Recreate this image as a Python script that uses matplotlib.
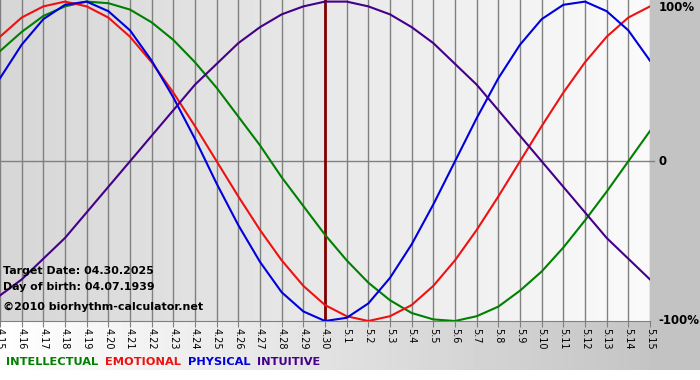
import matplotlib
matplotlib.use("Agg")
import matplotlib.pyplot as plt
import numpy as np

# days shown (4.15 .. 5.15)
days = ['4.15', '4.16', '4.17', '4.18', '4.19', '4.20', '4.21', '4.22', '4.23', '4.24',
        '4.25', '4.26', '4.27', '4.28', '4.29', '4.30',
        '5.1', '5.2', '5.3', '5.4', '5.5', '5.6', '5.7', '5.8', '5.9', '5.10',
        '5.11', '5.12', '5.13', '5.14', '5.15']
target_day = '4.30'

# cycle values per day, -1..1
intellectual = [0.69, 0.81, 0.91, 0.97, 1.00, 0.99, 0.95, 0.87, 0.76, 0.62, 0.46, 0.28, 0.10,
                -0.10, -0.28, -0.46, -0.62, -0.76, -0.87, -0.95, -0.99, -1.00, -0.97, -0.91,
                -0.81, -0.69, -0.54, -0.37, -0.19, 0.00, 0.19]
emotional = [0.78, 0.90, 0.97, 1.00, 0.97, 0.90, 0.78, 0.62, 0.43, 0.22, 0.00, -0.22, -0.43,
             -0.62, -0.78, -0.90, -0.97, -1.00, -0.97, -0.90, -0.78, -0.62, -0.43, -0.22,
             0.00, 0.22, 0.43, 0.62, 0.78, 0.90, 0.97]
physical = [0.52, 0.73, 0.89, 0.98, 1.00, 0.94, 0.82, 0.63, 0.40, 0.14, -0.14, -0.40, -0.63,
            -0.82, -0.94, -1.00, -0.98, -0.89, -0.73, -0.52, -0.27, 0.00, 0.27, 0.52, 0.73,
            0.89, 0.98, 1.00, 0.94, 0.82, 0.63]
intuitive = [-0.84, -0.74, -0.61, -0.48, -0.32, -0.16, 0.00, 0.16, 0.32, 0.48, 0.61, 0.74,
             0.84, 0.92, 0.97, 1.00, 1.00, 0.97, 0.92, 0.84, 0.74, 0.61, 0.48, 0.32, 0.16,
             0.00, -0.16, -0.32, -0.48, -0.61, -0.74]

series = [('INTELLECTUAL', intellectual, '#008000'),
          ('EMOTIONAL', emotional, '#ee1111'),
          ('PHYSICAL', physical, '#0000dd'),
          ('INTUITIVE', intuitive, '#440088')]

W, H = 700, 380
plot_right, plot_bottom = 650, 321

fig = plt.figure(figsize=(W / 100, H / 100), dpi=100)

# page background: gray right column, white->gray strip under the chart, white bottom strip
bg = np.full((H, W), 0.765)
grad = np.linspace(1.0, 0.77, plot_right)
bg[plot_bottom:370, :plot_right] = grad
bg[370:, :] = 1.0
bga = fig.add_axes([0, 0, 1, 1])
bga.imshow(bg, cmap='gray', vmin=0, vmax=1, aspect='auto', extent=(0, W, H, 0))
bga.axis('off')

ax = fig.add_axes([0, (H - plot_bottom) / H, plot_right / W, plot_bottom / H])
x = np.arange(len(days))
ax.set_xlim(0, len(days) - 1)
ax.set_ylim(-1.0, 1.01)

# plot area gradient, darker on the left
ax.imshow(np.linspace(0.84, 0.98, 200)[None, :], cmap='gray', vmin=0, vmax=1,
          aspect='auto', extent=(0, len(days) - 1, -1.0, 1.01), zorder=0)

for xi in x:
    ax.axvline(xi, color='#808080', lw=1, zorder=1)
ax.axhline(0, color='#808080', lw=1, zorder=1)
ax.plot([len(days) - 1, len(days) - 0.8], [0, 0], color='#808080', lw=1, clip_on=False)
ax.axvline(days.index(target_day), color='#800000', lw=2, zorder=2)

for name, vals, col in series:
    ax.plot(x, vals, color=col, lw=1.5, zorder=3)

for s in ['top', 'right', 'left']:
    ax.spines[s].set_visible(False)
ax.spines['bottom'].set_color('#808080')
ax.set_yticks([])
ax.set_xticks(x)
ax.set_xticklabels(days, rotation=270, fontsize=7, fontfamily='DejaVu Sans')
ax.tick_params(axis='x', direction='out', length=4, color='#808080', pad=1)

for yv, lab in [(0.96, '100%'), (0, '0'), (-1.0, '-100%')]:
    ax.text(1.013, yv, lab, transform=ax.get_yaxis_transform(), ha='left', va='center',
            fontsize=8.5, fontweight='bold', color='black')

fig.text(3 / W, 1 - 271 / H, 'Target Date: 04.30.2025', fontsize=7.9, fontweight='bold', va='center')
fig.text(3 / W, 1 - 287 / H, 'Day of birth: 04.07.1939', fontsize=7.9, fontweight='bold', va='center')
fig.text(3 / W, 1 - 307 / H, '©2010 biorhythm-calculator.net', fontsize=8.0, fontweight='bold', va='center')

# legend row
xpos = 6
for name, vals, col in series:
    t = fig.text(xpos / W, 1 - 362 / H, name, fontsize=8.2, fontweight='bold', color=col, va='center')
    fig.canvas.draw()
    bb = t.get_window_extent()
    xpos = bb.x1 + 7

fig.savefig('out.png', dpi=100)
